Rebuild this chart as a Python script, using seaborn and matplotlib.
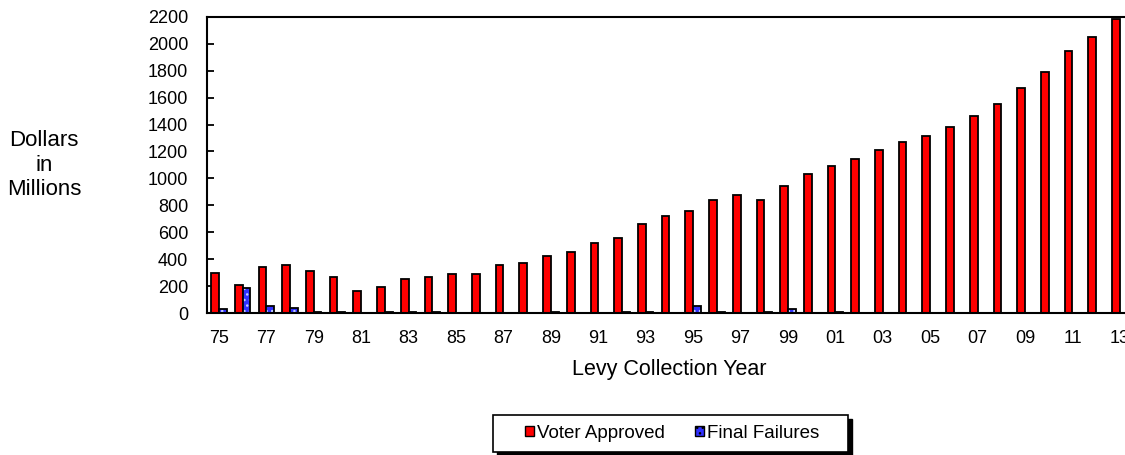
import matplotlib.pyplot as plt
import pandas as pd
import seaborn as sns
from matplotlib.patches import Rectangle

# levy collection years 1975 - 2013
YEARS = [f"{y % 100:02d}" for y in range(1975, 2014)]
VOTER_APPROVED = [
    300, 205, 342, 360, 312, 270, 162, 193, 254, 265,
    291, 287, 354, 370, 425, 451, 521, 558, 664, 720,
    755, 842, 874, 842, 940, 1032, 1090, 1144, 1210, 1268,
    1318, 1381, 1461, 1549, 1673, 1790, 1945, 2047, 2186,
]
FINAL_FAILURES = [
    30, 183, 50, 35, 10, 5, 3, 5, 8, 5,
    0, 3, 0, 0, 5, 0, 0, 8, 5, 0,
    55, 8, 0, 10, 32, 0, 10, 0, 0, 0,
    0, 0, 0, 0, 0, 0, 0, 0, 0,
]
SERIES = ["Voter Approved", "Final Failures"]
COLORS = ["#ff0000", "#3030ff"]

df = pd.DataFrame({
    "year": YEARS * 2,
    "value": VOTER_APPROVED + FINAL_FAILURES,
    "series": [SERIES[0]] * len(YEARS) + [SERIES[1]] * len(YEARS),
})

sns.set_theme(style="white")
plt.rcParams["font.family"] = ["Liberation Sans", "DejaVu Sans"]
plt.rcParams["text.color"] = "black"

fig = plt.figure(figsize=(11.25, 4.55), dpi=100)
# right edge of the plot runs past the figure, like the original
ax = fig.add_axes([0.184, 0.312, 0.822, 0.651])

sns.barplot(data=df, x="year", y="value", hue="series", palette=COLORS,
            saturation=1, width=0.65, edgecolor="black", linewidth=1.3,
            ax=ax, legend=False)

# dotted fill on the failure bars, then redraw the black outline on top
for bar in ax.containers[1]:
    bar.set_hatch("...")
    bar.set_edgecolor("#c0ccff")
    bar.set_linewidth(0)
    ax.add_patch(Rectangle(bar.get_xy(), bar.get_width(), bar.get_height(),
                           fill=False, edgecolor="black", linewidth=1.3))

ax.set_xlim(-0.5, len(YEARS) - 0.5)
ax.set_ylim(0, 2200)
ax.set_yticks(range(0, 2201, 200))
ax.set_xticks(range(0, len(YEARS), 2))
ax.set_xticklabels(YEARS[::2])
ax.tick_params(axis="x", length=0, pad=12, labelsize=13, colors="black")
ax.tick_params(axis="y", direction="in", length=5, width=1.3, pad=13.5,
               labelsize=13, colors="black", left=True)
for side in ["left", "bottom", "top", "right"]:
    ax.spines[side].set_color("black")
    ax.spines[side].set_linewidth(1.5)

ax.set_xlabel("Levy Collection Year", fontsize=15.5, labelpad=9, color="black")
ax.set_ylabel("")
fig.text(0.039, 0.637, "Dollars\nin\nMillions", ha="center", va="center",
         fontsize=16, linespacing=1.2, color="black")

# legend box drawn on its own so it can be wider than its entries
box_x, box_y, box_w, box_h = 493 / 1125, 1 - 452 / 455, 355 / 1125, 37 / 455
fig.patches.append(Rectangle((box_x + 3.5 / 1125, box_y - 3.5 / 455), box_w, box_h,
                             transform=fig.transFigure, facecolor="black",
                             edgecolor="black", zorder=1))
fig.patches.append(Rectangle((box_x, box_y), box_w, box_h, transform=fig.transFigure,
                             facecolor="white", edgecolor="black", linewidth=1.2,
                             zorder=2))

handles = [Rectangle((0, 0), 1, 1, facecolor=COLORS[0], edgecolor="black", linewidth=1),
           Rectangle((0, 0), 1, 1, facecolor=COLORS[1], edgecolor="black", linewidth=1,
                     hatch="...")]
leg = fig.legend(handles, SERIES, loc="center", bbox_to_anchor=(672 / 1125, 1 - 433 / 455),
                 ncol=2, frameon=False, fontsize=13.5, handlelength=0.5, handleheight=0.5,
                 handletextpad=0.15, columnspacing=1.6, borderpad=0, labelcolor="black")
leg.set_zorder(3)

fig.savefig("out.png", dpi=100)
